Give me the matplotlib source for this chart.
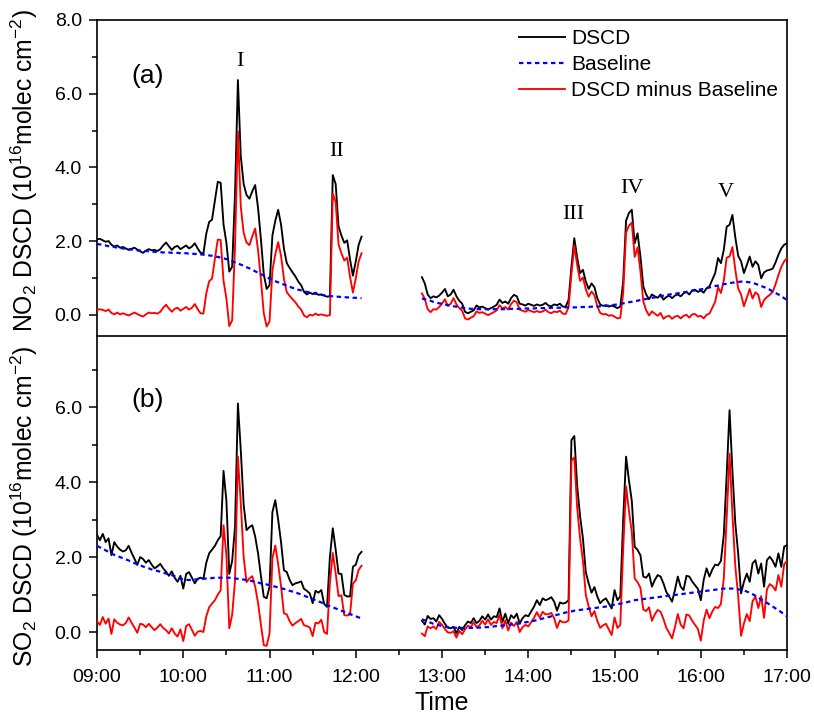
import numpy as np
import matplotlib
matplotlib.use("Agg")
import matplotlib.pyplot as plt
from matplotlib.lines import Line2D
from matplotlib.ticker import FixedLocator, MultipleLocator, FormatStrFormatter

plt.rcParams['font.family'] = ['Liberation Sans', 'DejaVu Sans']
plt.rcParams['mathtext.fontset'] = 'custom'
plt.rcParams['mathtext.rm'] = 'Liberation Sans'
plt.rcParams['mathtext.it'] = 'Liberation Sans:italic'
plt.rcParams['mathtext.default'] = 'regular'

# sampling: minutes after 09:00, one record every 2 minutes
STEP_MIN = 2
morning_start, morning_end = 0, 184
afternoon_start, afternoon_end = 226, 480

# ---- NO2 (panel a) ----
no2_dscd_morning = [
    2.05, 2.06, 2.02, 1.98, 2.00, 1.90, 1.85, 1.88, 1.82, 1.84,
    1.80, 1.76, 1.79, 1.82, 1.77, 1.72, 1.68, 1.74, 1.78, 1.75,
    1.76, 1.73, 1.78, 1.88, 1.96, 1.86, 1.76, 1.84, 1.87, 1.78,
    1.83, 1.88, 1.80, 1.85, 1.94, 1.80, 1.68, 1.66, 2.20, 2.52,
    2.58, 3.10, 3.61, 3.58, 2.45, 1.95, 1.17, 1.30, 3.30, 6.37,
    4.30, 3.55, 3.25, 3.15, 3.35, 3.52, 2.90, 2.05, 1.10, 0.70,
    0.80, 2.15, 2.55, 2.85, 2.45, 1.80, 1.40, 1.27, 1.15, 1.04,
    0.90, 0.80, 0.62, 0.55, 0.60, 0.56, 0.60, 0.54, 0.55, 0.52,
    0.49, 0.50, 3.79, 3.55, 2.40, 2.15, 1.95, 2.02, 1.50, 1.06,
    1.45, 1.90, 2.12]
no2_base_morning = [
    1.92, 1.91, 1.89, 1.88, 1.86, 1.85, 1.84, 1.82, 1.81, 1.80,
    1.79, 1.78, 1.77, 1.76, 1.75, 1.74, 1.73, 1.73, 1.72, 1.71,
    1.71, 1.70, 1.70, 1.69, 1.69, 1.69, 1.68, 1.68, 1.68, 1.67,
    1.67, 1.67, 1.66, 1.66, 1.65, 1.65, 1.64, 1.63, 1.62, 1.61,
    1.60, 1.58, 1.57, 1.55, 1.53, 1.51, 1.48, 1.45, 1.42, 1.39,
    1.36, 1.33, 1.29, 1.26, 1.22, 1.18, 1.14, 1.10, 1.06, 1.02,
    0.98, 0.95, 0.91, 0.88, 0.85, 0.82, 0.79, 0.76, 0.73, 0.70,
    0.68, 0.66, 0.64, 0.62, 0.60, 0.58, 0.57, 0.55, 0.54, 0.53,
    0.52, 0.51, 0.50, 0.49, 0.49, 0.48, 0.48, 0.47, 0.47, 0.46,
    0.46, 0.45, 0.45]
no2_dscd_afternoon = [
    1.02, 0.85, 0.55, 0.45, 0.50, 0.47, 0.52, 0.60, 0.70, 0.50,
    0.55, 0.68, 0.50, 0.38, 0.30, 0.08, 0.04, 0.08, 0.12, 0.25,
    0.20, 0.22, 0.18, 0.14, 0.18, 0.22, 0.27, 0.41, 0.32, 0.36,
    0.30, 0.45, 0.54, 0.50, 0.30, 0.28, 0.25, 0.30, 0.27, 0.24,
    0.28, 0.25, 0.27, 0.32, 0.25, 0.23, 0.28, 0.26, 0.30, 0.22,
    0.22, 0.40, 1.30, 2.08, 1.55, 1.13, 1.22, 0.90, 0.70, 0.85,
    0.75, 0.45, 0.28, 0.24, 0.26, 0.22, 0.25, 0.22, 0.18, 0.22,
    0.90, 2.55, 2.76, 2.85, 1.94, 2.21, 1.58, 0.77, 0.55, 0.42,
    0.55, 0.50, 0.46, 0.55, 0.41, 0.48, 0.52, 0.45, 0.52, 0.55,
    0.50, 0.58, 0.62, 0.55, 0.66, 0.68, 0.62, 0.66, 0.60, 0.72,
    0.77, 0.95, 1.13, 1.54, 1.40, 1.76, 2.39, 2.44, 2.71, 2.10,
    1.60, 1.45, 1.13, 1.35, 1.58, 1.30, 1.45, 1.35, 0.99, 1.15,
    1.20, 1.22, 1.25, 1.42, 1.63, 1.80, 1.90, 1.94]
no2_base_afternoon = [
    0.44, 0.42, 0.40, 0.38, 0.35, 0.33, 0.31, 0.30, 0.28, 0.26,
    0.25, 0.23, 0.22, 0.20, 0.19, 0.18, 0.17, 0.16, 0.16, 0.16,
    0.15, 0.15, 0.15, 0.15, 0.15, 0.15, 0.15, 0.15, 0.15, 0.15,
    0.16, 0.16, 0.16, 0.16, 0.16, 0.17, 0.17, 0.17, 0.17, 0.17,
    0.18, 0.18, 0.18, 0.18, 0.18, 0.19, 0.19, 0.19, 0.19, 0.19,
    0.20, 0.20, 0.20, 0.20, 0.20, 0.21, 0.21, 0.21, 0.21, 0.22,
    0.22, 0.22, 0.23, 0.23, 0.24, 0.25, 0.26, 0.27, 0.28, 0.30,
    0.31, 0.32, 0.34, 0.35, 0.37, 0.38, 0.40, 0.41, 0.43, 0.44,
    0.46, 0.47, 0.49, 0.50, 0.52, 0.53, 0.55, 0.56, 0.57, 0.58,
    0.60, 0.61, 0.62, 0.63, 0.65, 0.66, 0.67, 0.69, 0.70, 0.72,
    0.74, 0.76, 0.78, 0.79, 0.81, 0.83, 0.84, 0.86, 0.87, 0.88,
    0.89, 0.90, 0.90, 0.89, 0.88, 0.86, 0.84, 0.81, 0.78, 0.75,
    0.72, 0.68, 0.63, 0.59, 0.55, 0.50, 0.45, 0.40]

# ---- SO2 (panel b) ----
so2_dscd_morning = [
    2.59, 2.45, 2.62, 2.40, 2.50, 2.05, 2.40, 2.28, 2.20, 2.15,
    2.18, 2.30, 2.12, 1.96, 1.79, 2.00, 1.95, 1.85, 1.92, 1.80,
    1.70, 1.75, 1.82, 1.70, 1.61, 1.50, 1.62, 1.45, 1.34, 1.50,
    1.16, 1.55, 1.60, 1.45, 1.30, 1.42, 1.45, 1.42, 1.85, 2.10,
    2.20, 2.30, 2.45, 2.56, 4.30, 3.50, 1.55, 1.90, 2.81, 6.10,
    4.85, 3.40, 2.72, 2.80, 2.85, 2.55, 2.10, 1.50, 0.94, 0.90,
    1.21, 3.20, 3.52, 3.00, 2.40, 1.65, 1.60, 1.39, 1.25, 1.30,
    1.32, 1.35, 1.15, 1.10, 1.03, 0.77, 1.10, 1.05, 1.12, 0.75,
    0.67, 2.01, 2.77, 2.20, 1.56, 1.55, 0.99, 0.95, 0.95, 1.74,
    1.80, 2.05, 2.14]
so2_base_morning = [
    2.30, 2.26, 2.22, 2.18, 2.14, 2.10, 2.06, 2.03, 2.00, 1.97,
    1.94, 1.91, 1.87, 1.84, 1.81, 1.78, 1.75, 1.72, 1.70, 1.67,
    1.65, 1.63, 1.61, 1.59, 1.56, 1.54, 1.52, 1.49, 1.46, 1.43,
    1.40, 1.39, 1.39, 1.39, 1.40, 1.41, 1.42, 1.42, 1.43, 1.44,
    1.44, 1.45, 1.45, 1.45, 1.45, 1.45, 1.45, 1.44, 1.43, 1.42,
    1.41, 1.40, 1.39, 1.37, 1.36, 1.34, 1.32, 1.30, 1.29, 1.27,
    1.25, 1.23, 1.21, 1.19, 1.17, 1.15, 1.13, 1.10, 1.08, 1.06,
    1.03, 1.00, 0.97, 0.94, 0.91, 0.88, 0.85, 0.82, 0.79, 0.75,
    0.72, 0.69, 0.66, 0.63, 0.60, 0.57, 0.54, 0.51, 0.48, 0.45,
    0.42, 0.39, 0.37]
so2_dscd_afternoon = [
    0.30, 0.20, 0.43, 0.35, 0.37, 0.28, 0.45, 0.35, 0.22, 0.12,
    0.10, 0.14, -0.04, 0.14, 0.05, 0.18, 0.28, 0.24, 0.37, 0.24,
    0.30, 0.42, 0.33, 0.47, 0.33, 0.42, 0.40, 0.63, 0.27, 0.49,
    0.23, 0.45, 0.37, 0.49, 0.23, 0.37, 0.45, 0.42, 0.55, 0.68,
    0.85, 0.72, 0.90, 0.85, 0.88, 0.93, 0.81, 0.57, 0.79, 0.76,
    0.78, 0.85, 5.12, 5.23, 3.90, 3.10, 2.50, 1.60, 1.30, 1.05,
    1.20, 0.95, 0.77, 0.85, 0.90, 0.76, 0.63, 1.12, 0.85, 0.95,
    2.99, 4.68, 4.05, 3.50, 2.28, 2.19, 2.05, 1.48, 1.45, 1.56,
    1.21, 1.39, 1.52, 1.48, 1.30, 1.07, 0.95, 0.81, 1.12, 1.48,
    1.21, 1.12, 1.50, 1.48, 1.35, 1.25, 1.15, 0.85, 1.39, 1.70,
    1.48, 1.67, 1.80, 1.78, 1.90, 2.60, 4.20, 5.92, 4.30, 2.90,
    2.10, 1.03, 1.34, 1.56, 1.34, 1.83, 1.92, 1.56, 1.83, 1.21,
    1.92, 2.01, 1.90, 1.74, 2.10, 1.74, 2.28, 2.32]
so2_base_afternoon = [
    0.34, 0.31, 0.28, 0.25, 0.22, 0.20, 0.18, 0.16, 0.14, 0.13,
    0.12, 0.12, 0.11, 0.11, 0.11, 0.11, 0.11, 0.11, 0.11, 0.11,
    0.12, 0.12, 0.13, 0.13, 0.14, 0.15, 0.16, 0.16, 0.17, 0.18,
    0.19, 0.20, 0.21, 0.22, 0.23, 0.24, 0.26, 0.27, 0.29, 0.30,
    0.32, 0.34, 0.36, 0.38, 0.40, 0.42, 0.44, 0.46, 0.48, 0.50,
    0.52, 0.54, 0.55, 0.57, 0.58, 0.59, 0.60, 0.61, 0.62, 0.63,
    0.64, 0.65, 0.66, 0.67, 0.68, 0.69, 0.71, 0.73, 0.74, 0.76,
    0.77, 0.79, 0.81, 0.83, 0.85, 0.86, 0.87, 0.88, 0.89, 0.90,
    0.91, 0.92, 0.93, 0.94, 0.95, 0.96, 0.97, 0.98, 0.99, 1.00,
    1.01, 1.02, 1.03, 1.04, 1.05, 1.06, 1.07, 1.08, 1.09, 1.10,
    1.11, 1.12, 1.13, 1.14, 1.15, 1.16, 1.16, 1.16, 1.16, 1.15,
    1.14, 1.13, 1.11, 1.08, 1.05, 1.01, 0.97, 0.92, 0.87, 0.83,
    0.78, 0.73, 0.68, 0.63, 0.58, 0.53, 0.47, 0.42]

hour_ticks = [9, 10, 11, 12, 13, 14, 15, 16, 17]
hour_labels = ["09:00", "10:00", "11:00", "12:00", "13:00",
               "14:00", "15:00", "16:00", "17:00"]

# event markers (label, time in hours, height in panel a units)
events = [("I", 10.658, 6.86), ("II", 11.783, 4.44), ("III", 14.525, 2.72),
          ("IV", 15.203, 3.44), ("V", 16.287, 3.32)]


def hours(start, end):
    return 9 + np.arange(start, end + 1, STEP_MIN) / 60.0


t_morning = hours(morning_start, morning_end)
t_afternoon = hours(afternoon_start, afternoon_end)

fig = plt.figure(figsize=(8.14, 7.14), dpi=100)
ax_a = fig.add_axes([0.1192, 0.5308, 0.8477, 0.4412])
ax_b = fig.add_axes([0.1192, 0.0896, 0.8477, 0.4398])

BLACK, BLUE, RED = "#000000", "#0000FF", "#FF0000"
LW = 1.35
DASH = (0, (2.0, 1.6))


def draw_panel(ax, segments):
    for t, dscd, base in segments:
        dscd = np.asarray(dscd)
        base = np.asarray(base)
        ax.plot(t, dscd, color=BLACK, lw=LW, zorder=2)
        ax.plot(t, dscd - base, color=RED, lw=LW, zorder=3)
        ax.plot(t, base, color=BLUE, lw=1.6, ls=DASH, zorder=4)


draw_panel(ax_a, [(t_morning, no2_dscd_morning, no2_base_morning),
                  (t_afternoon, no2_dscd_afternoon, no2_base_afternoon)])
draw_panel(ax_b, [(t_morning, so2_dscd_morning, so2_base_morning),
                  (t_afternoon, so2_dscd_afternoon, so2_base_afternoon)])

for ax in (ax_a, ax_b):
    ax.set_xlim(9, 17)
    ax.xaxis.set_major_locator(FixedLocator(hour_ticks))
    ax.xaxis.set_minor_locator(MultipleLocator(0.5))
    ax.yaxis.set_major_locator(MultipleLocator(2.0))
    ax.yaxis.set_minor_locator(MultipleLocator(1.0))
    ax.yaxis.set_major_formatter(FormatStrFormatter("%.1f"))
    ax.tick_params(axis="both", which="major", direction="out", length=6,
                   width=1.1, labelsize=14)
    ax.tick_params(axis="both", which="minor", direction="out", length=3.5,
                   width=1.1)
    ax.tick_params(axis="y", which="major", pad=5)
    for sp in ax.spines.values():
        sp.set_linewidth(1.2)

ax_a.spines["bottom"].set_visible(False)
ax_a.set_ylim(-0.55, 8.0)
ax_b.set_ylim(-0.48, 7.9)
ax_b.set_yticks([0, 2, 4, 6])

ax_a.tick_params(axis="x", which="both", bottom=False, labelbottom=False)
ax_b.tick_params(axis="x", which="major", pad=8)
ax_b.set_xticklabels(hour_labels)

ax_a.set_ylabel(r"NO$_2$ DSCD (10$^{16}$molec cm$^{-2}$)", fontsize=17.8)
ax_b.set_ylabel(r"SO$_2$ DSCD (10$^{16}$molec cm$^{-2}$)", fontsize=17.8)
ax_a.yaxis.set_label_coords(-0.083, 0.522)
ax_b.yaxis.set_label_coords(-0.083, 0.458)
ax_b.set_xlabel("Time", fontsize=18, labelpad=3)

ax_a.text(0.073, 0.822, "(a)", transform=ax_a.transAxes, fontsize=19,
          ha="center", va="center")
ax_b.text(0.073, 0.796, "(b)", transform=ax_b.transAxes, fontsize=19,
          ha="center", va="center")

for name, tx, ty in events:
    ax_a.text(tx, ty, name, fontsize=16, family="Liberation Serif",
              ha="center", va="center")

handles = [Line2D([], [], color=BLACK, lw=LW),
           Line2D([], [], color=BLUE, lw=1.6, ls=DASH),
           Line2D([], [], color=RED, lw=LW)]
ax_a.legend(handles, ["DSCD", "Baseline", "DSCD minus Baseline"],
            loc="upper left", bbox_to_anchor=(0.606, 0.985), frameon=False,
            fontsize=15, handlelength=2.2, handletextpad=0.3,
            labelspacing=0.34, borderpad=0.2, borderaxespad=0.0)

fig.savefig("out.png", dpi=100)
